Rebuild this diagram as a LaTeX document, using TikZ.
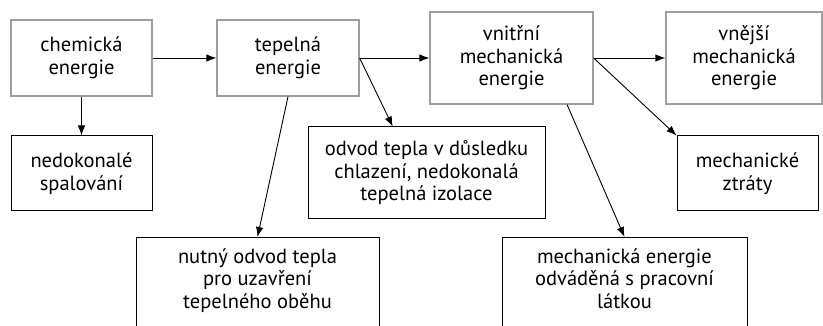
\documentclass[tikz,border=0pt]{standalone}
\usepackage{fontspec}
\setmainfont{PT Sans}
\usepackage{tikz}
\usetikzlibrary{arrows.meta}

\begin{document}
\begin{tikzpicture}[x=1pt,y=-1pt]

\tikzset{energy/.style = {shape=rectangle,draw=black!38,line width=1.3pt,align=center,
  font=\fontsize{20.5}{22.5}\selectfont,inner sep=0pt}}
\tikzset{loss/.style = {energy,draw=black,line width=1pt}}
\tikzset{edge/.style = {->,> = {Latex[length=10pt,width=7.5pt]},line width=0.9pt}}
\useasboundingbox (0,0) rectangle (823,326);
\clip (0,0) rectangle (823,326);
% energies
\node[energy,minimum width=141pt,minimum height=76pt] (chem) at (81.5,58) {chemická\\energie};
\node[energy,minimum width=142pt,minimum height=76pt] (tep) at (288,58) {tepelná\\energie};
\node[energy,minimum width=163pt,minimum height=92pt] (vnitr) at (511.5,58) {vnitřní\\mechanická\\energie};
\node[energy,minimum width=156pt,minimum height=92pt] (vnejsi) at (744,58) {vnější\\mechanická\\energie};
% losses
\node[loss,minimum width=141pt,minimum height=75pt] (nedok) at (81.5,173.5) {nedokonalé\\spalování};
\node[loss,minimum width=237pt,minimum height=92pt] (odvod) at (426.5,173) {odvod tepla v důsledku\\chlazení, nedokonalá\\tepelná izolace};
\node[loss,minimum width=141pt,minimum height=75pt] (ztraty) at (747.5,173.5) {mechanické\\ztráty};
\node[loss,anchor=north,minimum width=243pt,inner ysep=11pt,text depth=40pt] (nutny) at (257.5,237) {nutný odvod tepla\\pro uzavření\\tepelného oběhu};
\node[loss,anchor=north,minimum width=245pt,inner ysep=11pt,text depth=40pt] (odvadena) at (624.5,237) {mechanická energie\\odváděná s pracovní\\látkou};
% edges
\draw[edge] (chem) to (tep);
\draw[edge] (tep) to (vnitr);
\draw[edge] (vnitr) to (vnejsi);
\draw[edge] (chem) to (nedok);
\draw[edge] (tep.south) to (nutny.north);
\draw[edge] (tep.east) to (odvod.126);
\draw[edge] (vnitr.320) to (odvadena.north);
\draw[edge] (vnitr.east) to (ztraty.north west);
\end{tikzpicture}
\end{document}
